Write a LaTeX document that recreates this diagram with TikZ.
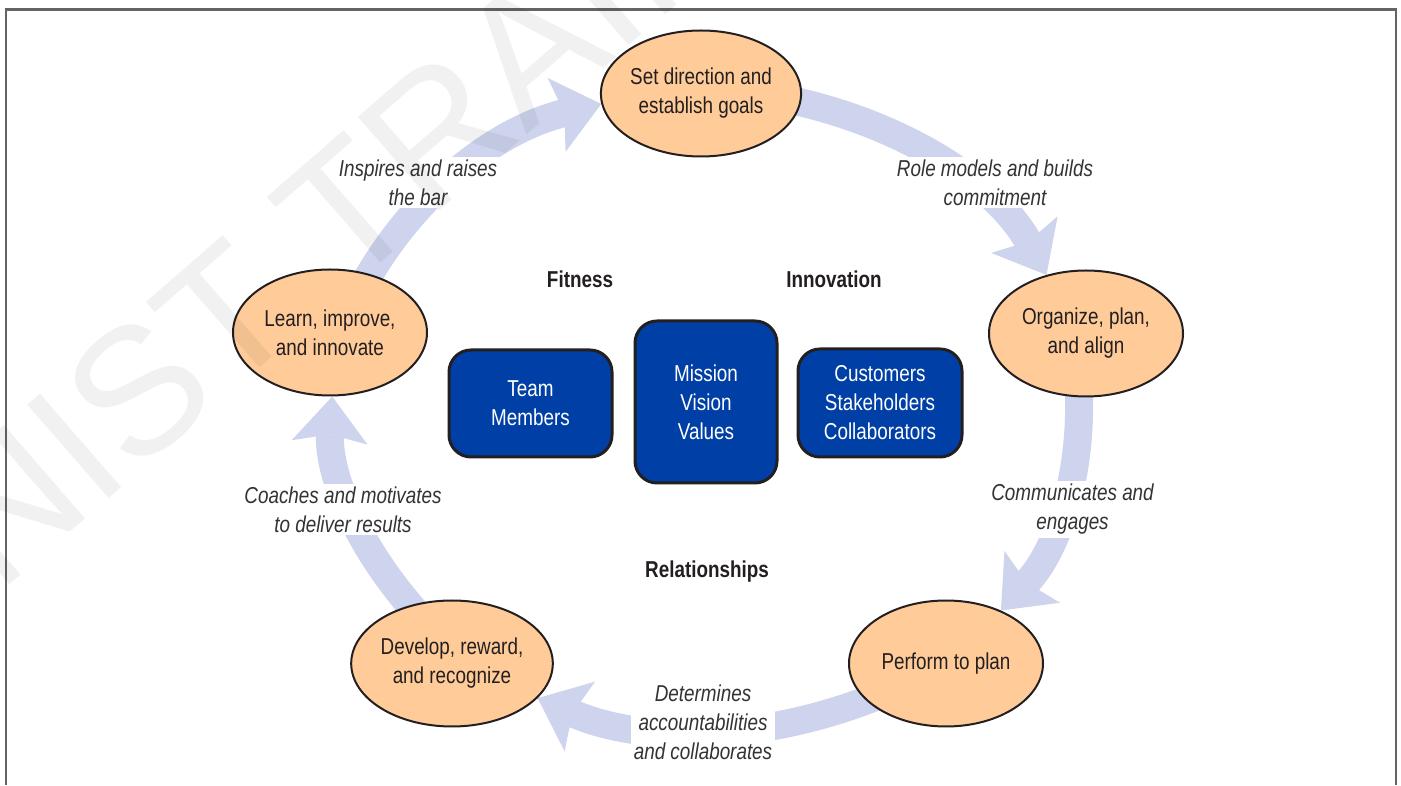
\documentclass[tikz,border=0pt]{standalone}
\usepackage{fontspec}
\setmainfont{Liberation Sans}[FakeStretch=0.82]
\newfontfamily\wmfont{Liberation Sans}
\usetikzlibrary{arrows.meta,backgrounds,shapes.geometric}
\definecolor{ringc}{RGB}{206,212,238}
\definecolor{peach}{RGB}{255,204,153}
\definecolor{navy}{RGB}{0,64,166}
\definecolor{txt}{RGB}{35,31,32}
\definecolor{lbltxt}{RGB}{51,51,51}
\definecolor{framec}{RGB}{100,100,100}
\begin{document}
\begin{tikzpicture}[x=1pt,y=1pt,
  oval/.style={ellipse, draw=txt, line width=2pt, fill=peach, minimum width=194pt, minimum height=126pt, inner sep=0pt, align=center, text=txt, font=\fontsize{23}{29}\selectfont},
  core/.style={rectangle, rounded corners=22pt, draw=txt, line width=3pt, fill=navy, text=white, align=center, inner sep=0pt, font=\fontsize{23}{29}\selectfont},
  lbl/.style={fill=white, inner sep=3pt, align=center, text=lbltxt, font=\fontsize{23}{29}\selectfont\itshape},
  theme/.style={inner sep=0pt, text=txt, font=\fontsize{23}{29}\selectfont\bfseries},
  band/.style={draw=ringc, line width=28pt, shorten <=-14pt, -{Stealth[width=76pt,length=46pt,inset=8pt,line width=0pt,fill=ringc]}}]
\useasboundingbox (0,0) rectangle (1401,785);
% frame
\draw[framec, line width=2.5pt] (6,0) -- (6,775.7) -- (1395.8,775.7) -- (1395.8,0);

% cycle steps
\node[oval] (set)   at (701,691.5) {Set direction and\\establish goals};
\node[oval] (org)   at (1086,451.5) {Organize, plan,\\and align};
\node[oval] (perf)  at (946,121.5) {Perform to plan};
\node[oval] (dev)   at (452,121.5) {Develop, reward,\\and recognize};
\node[oval] (learn) at (330,452.5) {Learn, improve,\\and innovate};

% core boxes
\node[core, minimum width=163pt, minimum height=107pt] (team) at (530.5,381.5) {Team\\Members};
\node[core, minimum width=142pt, minimum height=162pt] (mission) at (706,383) {Mission\\Vision\\Values};
\node[core, minimum width=164pt, minimum height=108pt] (cust) at (880,382) {Customers\\Stakeholders\\Collaborators};

% themes
\node[theme] (fit) at (580,506) {Fitness};
\node[theme] (inn) at (834,506) {Innovation};
\node[theme] (rel) at (707,213) {Relationships};

% labels on the cycle
\node[lbl] (l1) at (418,602.5) {Inspires and raises\\the bar};
\node[lbl] (l2) at (995,602.5) {Role models and builds\\commitment};
\node[lbl] (l3) at (1072.5,275.5) {Communicates and\\engages};
\node[lbl] (l4) at (703,63) {Determines\\accountabilities\\and collaborates};
\node[lbl] (l5) at (343,275.5) {Coaches and motivates\\to deliver results};

% ring arrows
\begin{pgfonlayer}{background}
\draw[band] (learn.56.8) .. controls +(60.9:95) and +(193.7:107) .. (set.186.2);
\draw[band] (set.355.5) .. controls +(-12.1:112) and +(118.8:99) .. (org.124.3);
\draw[band] (org.264) .. controls +(273:77.5) and +(47:83) .. (perf.44.1);
\draw[band] (perf.205.4) .. controls +(202:113.5) and +(336.4:113) .. (dev.338.7);
\draw[band] (dev.126.6) .. controls +(132:81) and +(266.7:76) .. (learn.272.3);
\end{pgfonlayer}

% watermark
\begin{scope}
\clip (0,0) rectangle (1401,785);
\node[rotate=41, anchor=base west, inner sep=0pt, text=black, text opacity=0.055, font=\wmfont\fontsize{180}{180}\selectfont] (wm) at (-2,190) {NIST TRAINING};
\end{scope}
\end{tikzpicture}
\end{document}
